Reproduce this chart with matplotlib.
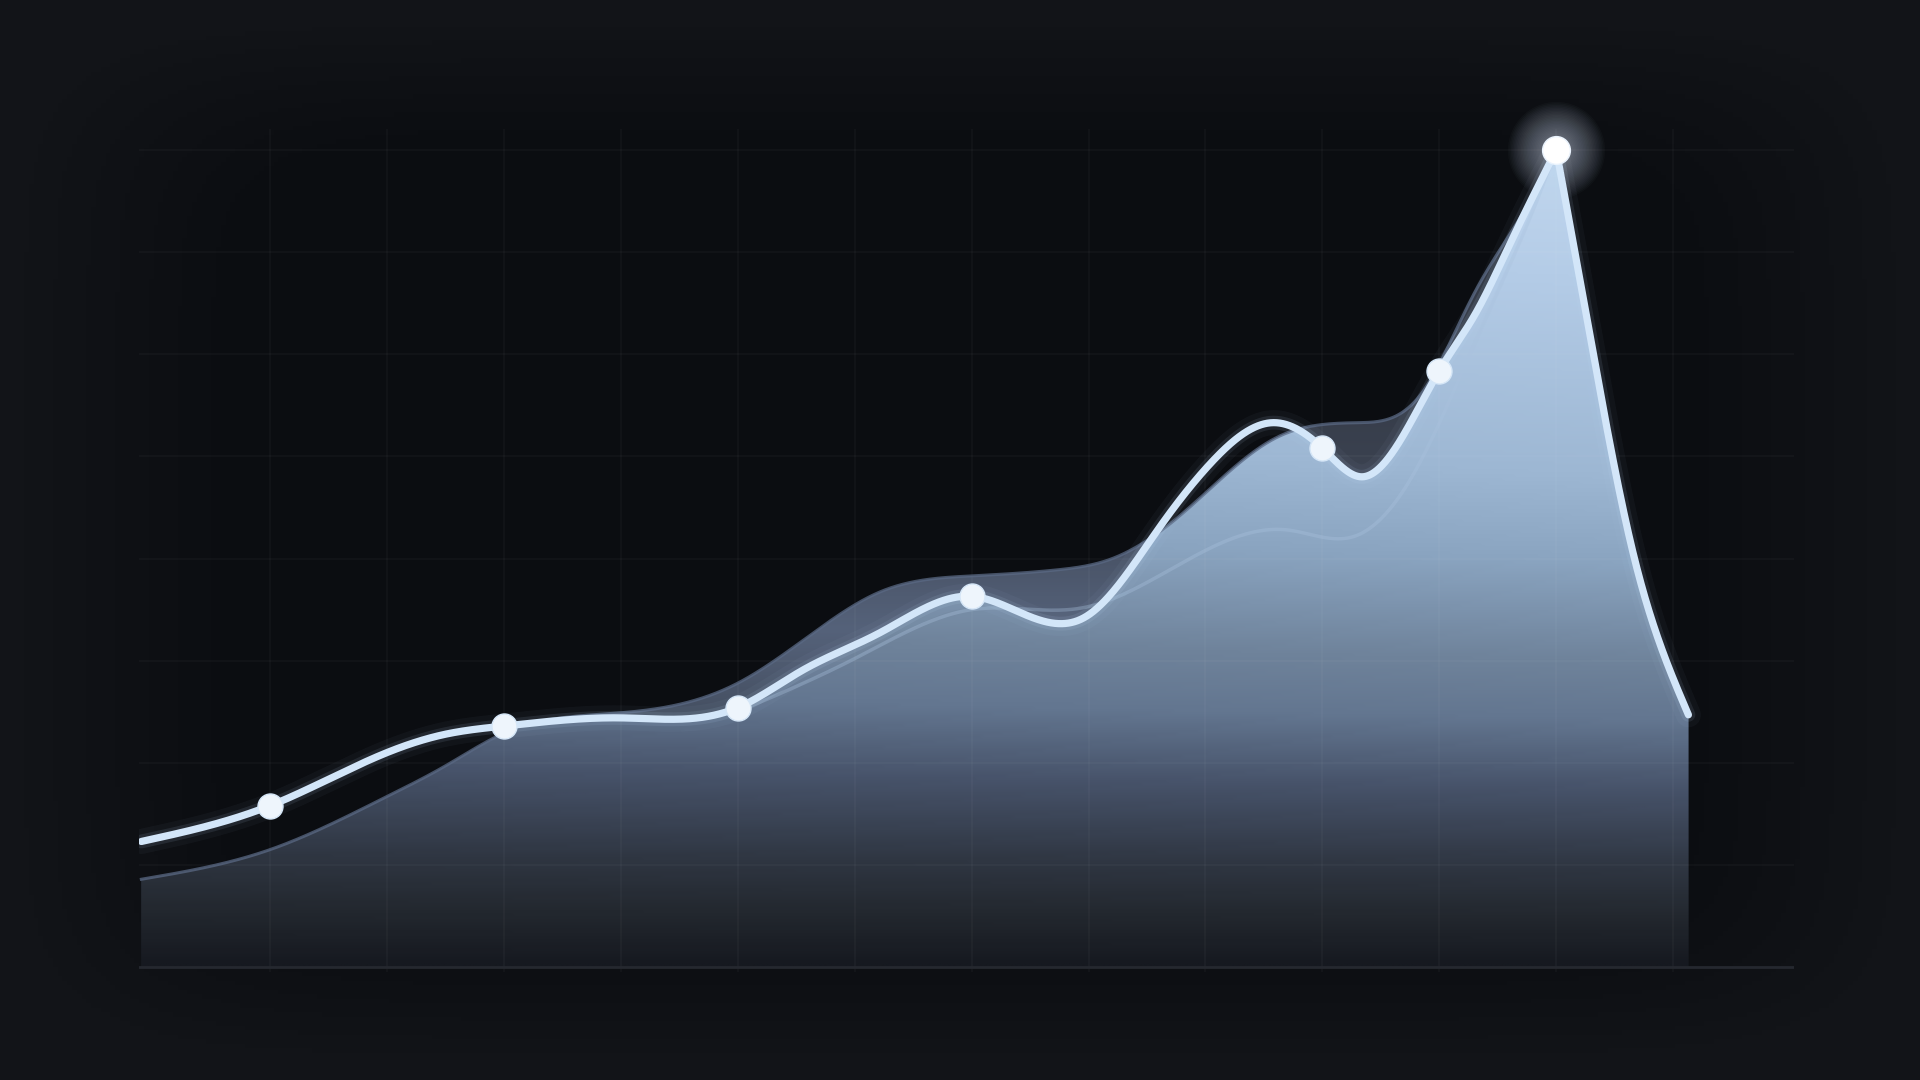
import numpy as np
import matplotlib.pyplot as plt
from matplotlib.colors import LinearSegmentedColormap

# bright front series (the line with markers)
main_x = [-0.1, 1.0, 2.0, 2.5, 3.0, 4.0, 5.0, 5.56, 6.21, 7.0, 7.96, 8.61, 9.05, 9.57,
          10.0, 10.34, 11.0, 11.31, 11.62, 12.0, 12.26, 12.66, 13.13]
main_y = [1.23, 1.58, 2.10, 2.28, 2.36, 2.44, 2.54, 2.91, 3.27, 3.63, 3.42, 4.31, 4.94, 5.33,
          5.08, 4.80, 5.84, 6.40, 7.12, 8.00, 6.36, 4.04, 2.47]
marker_x = [1.0, 3.0, 5.0, 7.0, 10.0, 11.0]
peak_x = 12.0

# muted back series (grey area behind)
back_x = [-0.1, 1.0, 2.0, 2.5, 3.0, 4.0, 5.0, 5.56, 6.21, 7.0, 7.74, 8.18, 8.74, 9.6,
          10.3, 10.85, 11.3, 11.8, 12.0]
back_y = [0.86, 1.15, 1.67, 1.97, 2.29, 2.49, 2.78, 3.20, 3.67, 3.83, 3.89, 3.99, 4.38, 5.18,
          5.33, 5.62, 6.60, 7.55, 8.00]

# faint inner series
inner_x = [5.0, 6.0, 7.0, 7.96, 8.95, 9.7, 10.28, 10.75, 11.3, 11.85, 12.0]
inner_y = [2.50, 3.02, 3.50, 3.52, 4.05, 4.28, 4.22, 4.77, 6.10, 7.55, 8.00]


def spline(x, y, xs):
    # natural cubic spline, only used to draw the curves smoothly
    x = np.asarray(x, float)
    y = np.asarray(y, float)
    n = len(x)
    h = np.diff(x)
    M = np.zeros((n, n))
    rhs = np.zeros(n)
    M[0, 0] = M[-1, -1] = 1
    for i in range(1, n - 1):
        M[i, i - 1] = h[i - 1]
        M[i, i] = 2 * (h[i - 1] + h[i])
        M[i, i + 1] = h[i]
        rhs[i] = 6 * ((y[i + 1] - y[i]) / h[i] - (y[i] - y[i - 1]) / h[i - 1])
    c = np.linalg.solve(M, rhs)
    i = np.clip(np.searchsorted(x, xs) - 1, 0, n - 2)
    t = xs - x[i]
    b = (y[i + 1] - y[i]) / h[i] - h[i] * (2 * c[i] + c[i + 1]) / 6
    return y[i] + b * t + c[i] / 2 * t**2 + (c[i + 1] - c[i]) / (6 * h[i]) * t**3


def curve(x, y, xs, cusp=None):
    # split at the sharp peak so it stays pointed
    x = np.asarray(x, float)
    y = np.asarray(y, float)
    if cusp is None:
        return spline(x, y, xs)
    k = int(np.argmin(np.abs(x - cusp)))
    left = spline(x[:k + 1], y[:k + 1], xs)
    right = spline(x[k:], y[k:], xs)
    return np.where(xs <= x[k], left, right)


xx = np.linspace(main_x[0], main_x[-1], 3000)
A = curve(main_x, main_y, xx, cusp=peak_x)
B = np.where(xx <= back_x[-1], curve(back_x, back_y, np.minimum(xx, back_x[-1])), np.nan)
front_top = np.where(np.isnan(B), A, np.minimum(A, B))
back_top = np.where(np.isnan(B), A, B)
ci = (xx >= inner_x[0]) & (xx <= inner_x[-1])
C = curve(inner_x, inner_y, xx[ci])

YTOP = 8.21
XL, XR = -0.12, 14.03

fig = plt.figure(figsize=(19.2, 10.8), dpi=100, facecolor='#101216')

# background vignette
bg = fig.add_axes([0, 0, 1, 1], zorder=-5)
u, v = np.meshgrid(np.linspace(-1, 1, 400), np.linspace(-1, 1, 240))
r = ((np.abs(u) / 0.98) ** 8 + (np.abs(v) / 0.96) ** 8) ** (1 / 8)
bg_cmap = LinearSegmentedColormap.from_list('bg', [(0, '#0b0d11'), (0.8, '#0c0e12'), (1, '#121418')])
bg.imshow(r, cmap=bg_cmap, vmin=0, vmax=1, aspect='auto', extent=[0, 1, 0, 1])
bg.axis('off')

ax = fig.add_axes([0.0724, 0.0998, 0.8618, 0.7812])
ax.set_facecolor('none')

front_cmap = LinearSegmentedColormap.from_list('front', [
    (0.0, '#161920'), (0.5 / 8, '#23282f'), (1.0 / 8, '#2f3642'), (1.8 / 8, '#47536a'),
    (2.5 / 8, '#637690'), (3.1 / 8, '#6f839b'), (4.1 / 8, '#8aa4c0'), (5.0 / 8, '#9db7d3'),
    (7.0 / 8, '#b4cce7'), (1.0, '#bfd5ed')])
back_cmap = LinearSegmentedColormap.from_list('back', [
    (0.0, '#181b22'), (2.0 / 8, '#3c4554'), (3.3 / 8, '#55627a'), (5.0 / 8, '#3a414f'),
    (1.0, '#282c35')])

gx, gy = np.meshgrid(np.linspace(main_x[0], main_x[-1], 300), np.linspace(0, YTOP, 300))


def gradient_fill(top, values, cmap, z):
    poly = ax.fill_between(xx, 0, top, facecolor='none', edgecolor='none')
    im = ax.imshow(values, extent=[main_x[0], main_x[-1], 0, YTOP], origin='lower',
                   cmap=cmap, vmin=0, vmax=8, aspect='auto', zorder=z, interpolation='bilinear')
    im.set_clip_path(poly.get_paths()[0], transform=ax.transData)


gradient_fill(back_top, gy, back_cmap, 1)
gradient_fill(front_top, gy * (0.92 + 0.12 * gx / 13), front_cmap, 2)

# grid
for gxv in range(1, 14):
    ax.axvline(gxv, color='white', alpha=0.03, lw=1.2, zorder=2.5)
for gyv in range(1, 9):
    ax.axhline(gyv, color='white', alpha=0.03, lw=1.2, zorder=2.5)
ax.axhline(0, color='#25282f', lw=2, zorder=2.6)

# lines
ax.plot(xx[ci], C, color='#aac2de', lw=2.5, alpha=0.35, zorder=3)
ax.plot(xx, B, color='#5a6984', lw=2.2, alpha=0.75, zorder=3)
ax.plot(xx, A, color='#bcd8f5', lw=18, alpha=0.04, zorder=4, solid_capstyle='round')
ax.plot(xx, A, color='#bcd8f5', lw=10, alpha=0.10, zorder=4, solid_capstyle='round')
ax.plot(xx, A, color='#d3e6f9', lw=5.2, zorder=5, solid_capstyle='round')

mx = np.array(main_x)
my = np.array(main_y)
sel = np.isin(mx, marker_x)
ax.plot(mx[sel], my[sel], 'o', ms=18, mfc='#eef5fc', mec='#d5e6f7', mew=1, zorder=6)

# soft glow round the peak
pk = my[mx == peak_x][0]
for d in np.linspace(22, 70, 24):
    ax.scatter([peak_x], [pk], s=d**2, color='#dce9ff', alpha=0.025, lw=0, zorder=6, clip_on=False)
ax.plot([peak_x], [pk], 'o', ms=20, mfc='#ffffff', mec='#eaf3fd', mew=1, zorder=7, clip_on=False)

ax.set_xlim(XL, XR)
ax.set_ylim(-0.05, YTOP)
ax.set_xticks([])
ax.set_yticks([])
for s in ax.spines.values():
    s.set_visible(False)

fig.savefig('out.png', dpi=100, facecolor=fig.get_facecolor())
